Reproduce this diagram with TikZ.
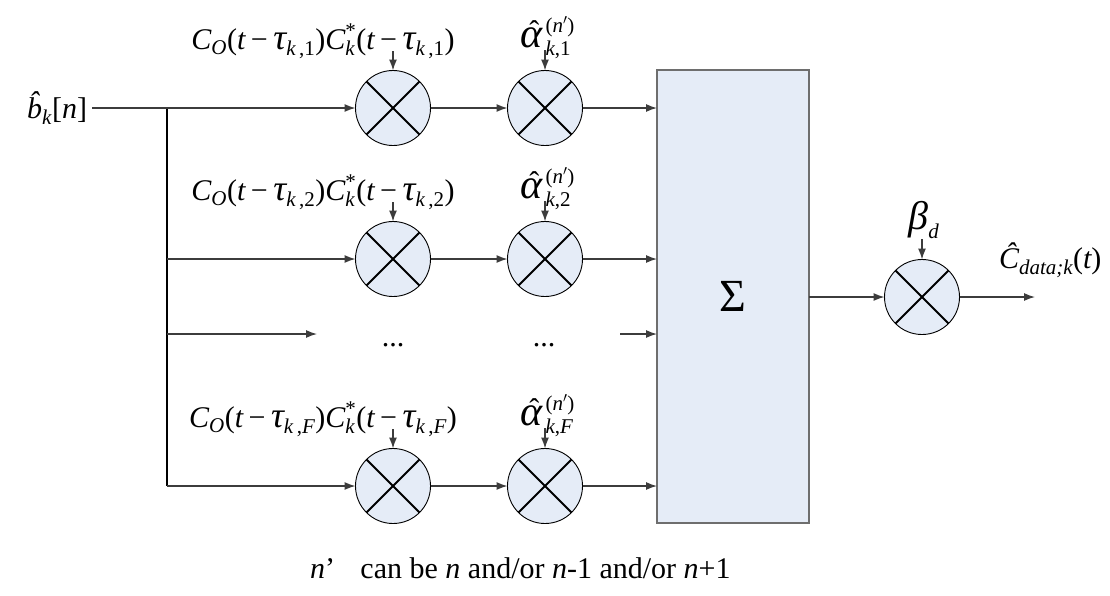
\documentclass[tikz,border=0pt]{standalone}
\usepackage{amsmath}
\usepackage{fontspec}
\setmainfont{Liberation Serif}
\usetikzlibrary{arrows.meta}
\definecolor{boxfill}{RGB}{229,236,247}
\definecolor{boxline}{RGB}{110,110,110}
\definecolor{wire}{RGB}{60,60,60}
\newcommand\mi[1]{\text{\itshape #1}}
\newcommand\mr[1]{\text{\upshape #1}}
\newcommand\gk[2]{\text{\fontsize{#1}{#1}\selectfont\itshape #2}}
\newcommand\mmin{\mathbin{\mr{−}}}
\newcommand\ahat{\text{\fontsize{42}{42}\selectfont\ooalign{\itshape α\cr\hidewidth\kern0.16em\fontsize{30}{30}\selectfont\raisebox{0.2em}{\upshape ˆ}\hidewidth\cr}}}
\newcommand\rowlab[1]{$\mi{C}_{\mi{O}}\mr{(}\mi{t}\mmin\gk{36}{τ}_{\mi{k}\mr{\,,#1}}\mr{)}\mi{C}_{\mi{k}}^{\mr{*}}\mr{(}\mi{t}\mmin\gk{36}{τ}_{\mi{k}\mr{\,,#1}}\mr{)}$}
\newcommand\alab[1]{${\ahat}_{\,\mi{k}\mr{,#1}}^{\,\raisebox{3pt}{$\scriptstyle\mr{(}\mi{n}\mr{$'$)}$}}$}
\begin{document}
\begin{tikzpicture}[x=1pt,y=-1pt,
  every node/.style={font=\fontsize{30}{36}\selectfont, inner sep=0pt, outer sep=0pt},
  mult/.style={circle, draw=black, line width=0.9pt, fill=boxfill, minimum size=75pt,
    path picture={\draw[line width=2pt] (path picture bounding box.north west) -- (path picture bounding box.south east)
      (path picture bounding box.north east) -- (path picture bounding box.south west);}},
  wire/.style={draw=wire, line width=1.3pt},
  arr/.style={wire, -{Latex[length=11pt,width=8pt]}},
  sumbox/.style={draw=boxline, fill=boxfill, line width=2pt, minimum width=152pt, minimum height=453pt}
]
\useasboundingbox (0,0) rectangle (1110,595);

% summation box
\node[sumbox] (sum) at (733,296.5) {\fontsize{46}{50}\selectfont Σ};

% multipliers
\node[mult] (m11) at (393,108) {};
\node[mult] (m12) at (545,108) {};
\node[mult] (m21) at (393,259) {};
\node[mult] (m22) at (545,259) {};
\node[mult] (mF1) at (393,486) {};
\node[mult] (mF2) at (545,486) {};
\node[mult] (mo) at (922,297) {};

% input
\node[anchor=base east] (b) at (87,118) {$\mi{b\symbol{"0302}}_{\mi{k}}\mr{[}\mi{n}\mr{]}$};
\coordinate (j0) at (92,108);
\coordinate (j1) at (167,108);
\coordinate (j2) at (167,259);
\coordinate (jd) at (167,334);
\coordinate (jF) at (167,486);
\coordinate (de) at (317,334);
\coordinate (ds) at (620,334);
\coordinate (outend) at (1035,297);

\draw[line width=1.6pt] (j1) -- (jF);
\draw[arr] (j0) -- (m11.west);
\draw[arr] (j2) -- (m21.west);
\draw[arr] (jd) -- (de);
\draw[arr] (jF) -- (mF1.west);

\draw[arr] (m11) -- (m12);
\draw[arr] (m21) -- (m22);
\draw[arr] (mF1) -- (mF2);
\draw[arr] (m12.east) -- (m12.east -| sum.west);
\draw[arr] (m22.east) -- (m22.east -| sum.west);
\draw[arr] (ds) -- (ds -| sum.west);
\draw[arr] (mF2.east) -- (mF2.east -| sum.west);
\draw[arr] (sum.east |- mo) -- (mo.west);
\draw[arr] (mo.east) -- (outend);

% dots
\node[anchor=base] (d1) at (393,346) {...};
\node[anchor=base] (d2) at (544,346) {...};

% labels
\node[anchor=base] (l1) at (323,49) {\rowlab{1}};
\node[anchor=base] (l2) at (323,200) {\rowlab{2}};
\node[anchor=base] (lF) at (323,427) {\rowlab{\mi{F}}};
\node[anchor=base west] (a1) at (520,47) {\alab{1}};
\node[anchor=base west] (a2) at (520,198) {\alab{2}};
\node[anchor=base west] (aF) at (520,425) {\alab{\mi{F}}};
\node[anchor=base] (beta) at (924,229) {$\gk{40}{β}_{\mi{d}}$};
\node[anchor=base west] (cout) at (999,268) {$\mi{Ĉ}_{\mi{data;k}}\mr{(}\mi{t}\mr{)}$};

\draw[arr] (m11.north |- l1.base) ++(0,2) -- (m11.north);
\draw[arr] (m21.north |- l2.base) ++(0,2) -- (m21.north);
\draw[arr] (mF1.north |- lF.base) ++(0,2) -- (mF1.north);
\draw[arr] (m12.north |- a1.base) ++(0,3) -- (m12.north);
\draw[arr] (m22.north |- a2.base) ++(0,3) -- (m22.north);
\draw[arr] (mF2.north |- aF.base) ++(0,3) -- (mF2.north);
\draw[arr] (mo.north |- beta.base) ++(0,10) -- (mo.north);

% note
\node[anchor=base west] (note) at (310,578) {\textit{n}’\hspace{0.6em} can be \textit{n} and/or \textit{n}-1 and/or \textit{n}+1};
\end{tikzpicture}
\end{document}
